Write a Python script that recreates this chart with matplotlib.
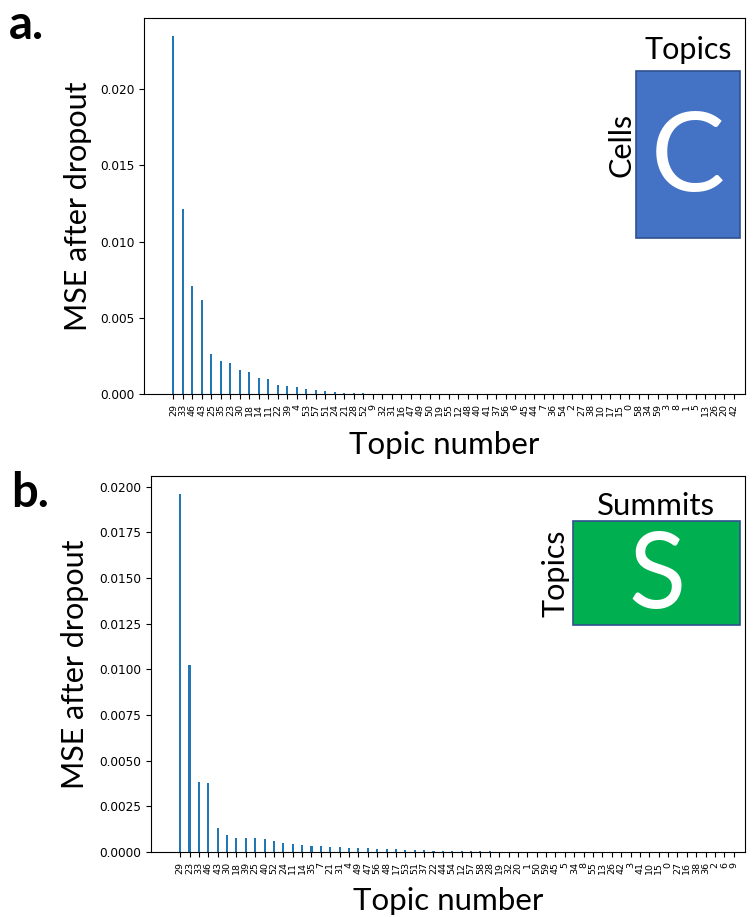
import matplotlib
matplotlib.use("Agg")
import matplotlib.pyplot as plt
from matplotlib.patches import Rectangle

LABEL_FONT = ["Lato", "DejaVu Sans"]
BAR_COLOR = "#1f77b4"

# panel a: topic dropout on the cells x topics matrix
topics_a = ["29", "33", "46", "43", "25", "35", "23", "30", "18", "14",
            "11", "22", "39", "4", "53", "57", "51", "24", "21", "28",
            "52", "9", "32", "31", "16", "47", "49", "50", "19", "55",
            "12", "48", "40", "41", "37", "56", "6", "45", "44", "7",
            "36", "54", "2", "27", "38", "10", "17", "15", "0", "58",
            "34", "59", "3", "8", "1", "5", "13", "26", "20", "42"]
mse_a = [0.02350, 0.01217, 0.00712, 0.00616, 0.00263, 0.00217, 0.00202, 0.00158, 0.00145, 0.00103,
         0.00097, 0.00059, 0.00055, 0.00046, 0.00031, 0.00028, 0.00022, 0.00013, 0.00007, 0.00006,
         0.00004, 0.00003, 0.000025, 0.00002, 0.000015, 0.000012, 0.00001, 0.000008, 0.000007, 0.000006,
         0.000005, 0.000005, 0.000004, 0.000004, 0.000003, 0.000003, 0.000003, 0.000002, 0.000002, 0.000002,
         0.000002, 0.000001, 0.000001, 0.000001, 0.000001, 0.000001, 0.000001, 0.0000005, 0.0000005, 0.0000005,
         0.0000004, 0.0000004, 0.0000003, 0.0000003, 0.0000002, 0.0000002, 0.0000001, 0.0000001, 0.0000001, 0.0]

# panel b: topic dropout on the topics x summits matrix
topics_b = ["29", "23", "33", "46", "43", "30", "18", "39", "25", "40",
            "52", "24", "11", "14", "35", "7", "21", "31", "4", "49",
            "47", "56", "48", "17", "53", "51", "37", "22", "44", "54",
            "12", "57", "58", "28", "19", "32", "20", "1", "50", "59",
            "45", "5", "34", "8", "55", "13", "26", "42", "3", "41",
            "10", "15", "0", "27", "16", "38", "36", "2", "6", "9"]
mse_b = [0.01960, 0.01023, 0.00383, 0.00378, 0.00131, 0.00093, 0.00078, 0.00078, 0.00075, 0.00073,
         0.00062, 0.00049, 0.00045, 0.00038, 0.00033, 0.00032, 0.00029, 0.00028, 0.00024, 0.00023,
         0.00020, 0.00018, 0.00016, 0.00014, 0.00012, 0.00010, 0.00009, 0.00008, 0.00007, 0.00006,
         0.00005, 0.00004, 0.000035, 0.00003, 0.000025, 0.00002, 0.000018, 0.000015, 0.000012, 0.00001,
         0.000008, 0.000007, 0.000006, 0.000005, 0.000004, 0.000004, 0.000003, 0.000003, 0.000002, 0.000002,
         0.000002, 0.000001, 0.000001, 0.000001, 0.000001, 0.0000005, 0.0000005, 0.0000003, 0.0000002, 0.0]


def draw_panel(ax, labels, values):
    ax.bar(range(len(values)), values, width=0.22, color=BAR_COLOR)
    ax.set_xticks(range(len(labels)))
    ax.set_xticklabels(labels, rotation=90, fontsize=6.8)
    ax.tick_params(axis="y", labelsize=8.7)
    ax.set_xlim(-3.1, 60.2)
    ax.set_ylabel("MSE after dropout", fontsize=22, family=LABEL_FONT)
    ax.set_xlabel("Topic number", fontsize=22.5, family=LABEL_FONT)


fig = plt.figure(figsize=(7.54, 9.17), dpi=100)

ax_a = fig.add_axes([0.191, 0.5703, 0.797, 0.4101])
draw_panel(ax_a, topics_a, mse_a)
ax_a.set_yticks([0.0, 0.005, 0.010, 0.015, 0.020])
ax_a.yaxis.set_label_coords(-0.087, 0.5)
ax_a.xaxis.set_label_coords(0.5, -0.097)

ax_b = fig.add_axes([0.2003, 0.0709, 0.7878, 0.41])
draw_panel(ax_b, topics_b, mse_b)
ax_b.set_yticks([0.0, 0.0025, 0.005, 0.0075, 0.010, 0.0125, 0.015, 0.0175, 0.020])
ax_b.set_yticklabels(["0.0000", "0.0025", "0.0050", "0.0075", "0.0100",
                      "0.0125", "0.0150", "0.0175", "0.0200"])
ax_b.yaxis.set_label_coords(-0.104, 0.5)
ax_b.xaxis.set_label_coords(0.5, -0.092)

# matrix sketches
fig.patches.append(Rectangle((0.8435, 0.7405), 0.138, 0.1821, transform=fig.transFigure,
                             facecolor="#4472C4", edgecolor="#2F528F", linewidth=1.2))
fig.text(0.9125, 0.9455, "Topics", ha="center", va="center", fontsize=22, family=LABEL_FONT)
fig.text(0.824, 0.842, "Cells", ha="center", va="center", rotation=90, fontsize=22, family=LABEL_FONT)
fig.text(0.9125, 0.826, "C", ha="center", va="center", fontsize=80, color="white", family=LABEL_FONT)

fig.patches.append(Rectangle((0.760, 0.3184), 0.2215, 0.1134, transform=fig.transFigure,
                             facecolor="#00B050", edgecolor="#2F528F", linewidth=1.2))
fig.text(0.870, 0.448, "Summits", ha="center", va="center", fontsize=22.5, family=LABEL_FONT)
fig.text(0.737, 0.375, "Topics", ha="center", va="center", rotation=90, fontsize=22, family=LABEL_FONT)
fig.text(0.871, 0.370, "S", ha="center", va="center", fontsize=76, color="white", family=LABEL_FONT)

# panel letters
fig.text(0.012, 0.997, "a.", ha="left", va="top", fontsize=34, fontweight="bold", family=LABEL_FONT)
fig.text(0.015, 0.486, "b.", ha="left", va="top", fontsize=34, fontweight="bold", family=LABEL_FONT)

fig.savefig("out.png", dpi=100)
